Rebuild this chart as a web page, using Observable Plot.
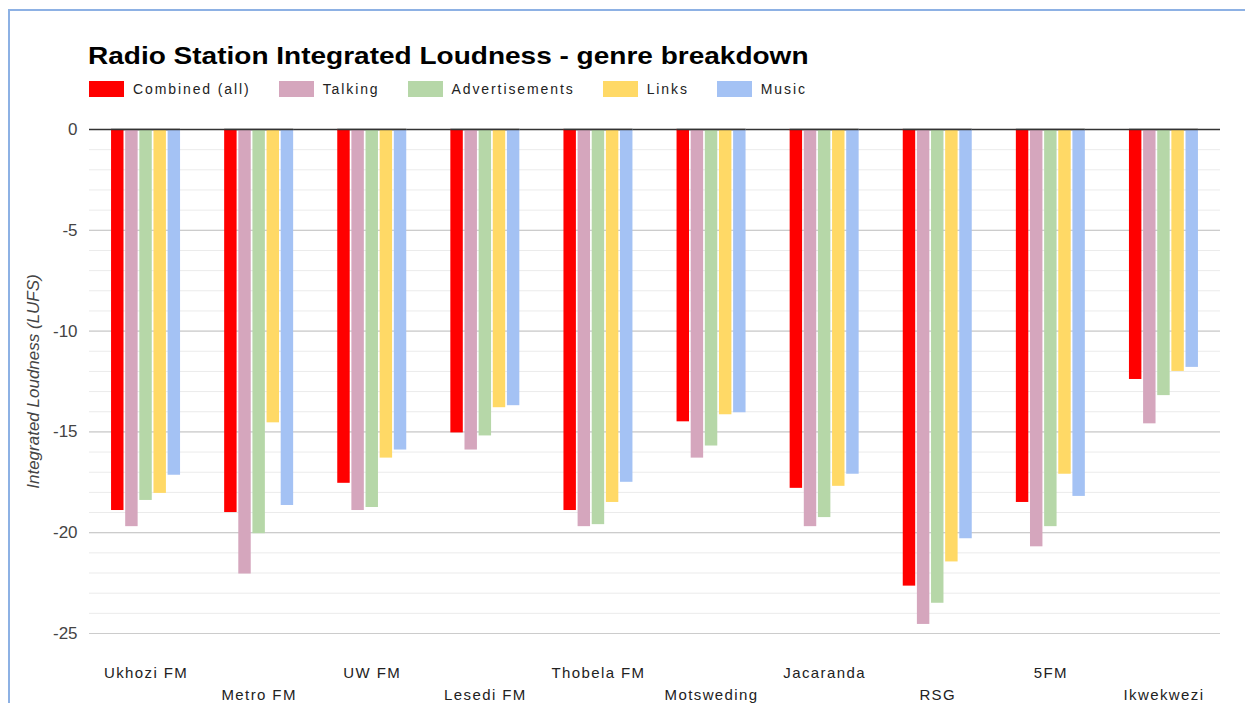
<!DOCTYPE html>
<html>
<head>
<meta charset="utf-8">
<script src="https://cdn.jsdelivr.net/npm/d3@7"></script>
<script src="https://cdn.jsdelivr.net/npm/@observablehq/plot@0.6"></script>
<style>
  html, body { margin: 0; padding: 0; background: #fff; }
  #wrap { position: relative; width: 1245px; height: 703px; overflow: hidden; font-family: "Liberation Sans", Arial, sans-serif; }
  #border { position: absolute; left: 8px; top: 9px; width: 1400px; height: 900px; border: 2px solid #8db1e4; box-sizing: border-box; }
  #title { position: absolute; left: 88px; top: 44px; font-size: 24px; line-height: 24px; font-weight: bold; color: #000; white-space: nowrap; transform: scaleX(1.167); transform-origin: left center; }
  #legend { position: absolute; left: 89px; top: 81px; display: flex; align-items: center; height: 16px; }
  .item { display: flex; align-items: center; margin-right: 28px; }
  .sw { width: 35px; height: 16px; margin-right: 9px; }
  .lab { font-size: 14px; letter-spacing: 1.9px; color: #222; white-space: nowrap; }
  #grid, #chart { position: absolute; left: 0; top: 100px; }
  #grid svg, #chart svg { overflow: visible; font-family: "Liberation Sans", Arial, sans-serif; }
  g[aria-label="fx-axis tick label"] text { letter-spacing: 1.4px; }
  g[aria-label="y-axis label"] text { font-style: italic; }
</style>
</head>
<body>
<div id="wrap">
  <div id="border"></div>
  <div id="title"></div>
  <div id="legend"></div>
  <div id="grid"></div>
  <div id="chart"></div>
</div>
<script>
const titleText = "Radio Station Integrated Loudness - genre breakdown";
const yLabel = "Integrated Loudness (LUFS)";
const stations = ["Ukhozi FM", "Metro FM", "UW FM", "Lesedi FM", "Thobela FM", "Motsweding", "Jacaranda", "RSG", "5FM", "Ikwekwezi"];
const genres = ["Combined (all)", "Talking", "Advertisements", "Links", "Music"];
const colors = ["#ff0000", "#d5a6bd", "#b6d7a8", "#ffd966", "#a4c2f4"];
const combined = [-18.9, -19.0, -17.55, -15.05, -18.9, -14.5, -17.8, -22.65, -18.5, -12.4];
const talking  = [-19.7, -22.05, -18.9, -15.9, -19.7, -16.3, -19.7, -24.55, -20.7, -14.6];
const ads      = [-18.4, -20.05, -18.75, -15.2, -19.6, -15.7, -19.25, -23.5, -19.7, -13.2];
const links    = [-18.05, -14.55, -16.3, -13.8, -18.5, -14.15, -17.7, -21.45, -17.1, -12.0];
const music    = [-17.15, -18.65, -15.9, -13.7, -17.5, -14.05, -17.1, -20.3, -18.2, -11.8];
const majorTicks = [0, -5, -10, -15, -20, -25];
const minorTicks = d3.range(-25, 1, 1);

const series = [combined, talking, ads, links, music];
const rows = stations.flatMap((s, i) => genres.map((g, j) => ({station: s, genre: g, value: series[j][i]})));

document.getElementById("title").textContent = titleText;
const legend = document.getElementById("legend");
genres.forEach((g, j) => {
  const it = document.createElement("div"); it.className = "item";
  const sw = document.createElement("div"); sw.className = "sw"; sw.style.background = colors[j];
  const lb = document.createElement("div"); lb.className = "lab"; lb.textContent = g;
  it.appendChild(sw); it.appendChild(lb); legend.appendChild(it);
});

const evenSt = stations.filter((d, i) => i % 2 === 0);
const oddSt = stations.filter((d, i) => i % 2 === 1);

const dims = {width: 1245, height: 603, marginTop: 29, marginBottom: 70, marginLeft: 89, marginRight: 25};

// background grid, spanning the full frame
const grid = Plot.plot({
  ...dims,
  style: {background: "transparent"},
  y: {domain: [-25, 0], axis: null},
  marks: [
    Plot.ruleY(minorTicks, {stroke: "#ebebeb", strokeWidth: 1}),
    Plot.ruleY(majorTicks.filter(d => d !== 0), {stroke: "#cccccc", strokeWidth: 1.2}),
    Plot.ruleY([0], {stroke: "#333333", strokeWidth: 1.5})
  ]
});
document.getElementById("grid").appendChild(grid);

const chart = Plot.plot({
  ...dims,
  style: {background: "transparent", fontSize: "14px"},
  fx: {domain: stations, paddingInner: 0.39, paddingOuter: 0.195, round: false, axis: null},
  x: {domain: genres, paddingInner: 0.12, paddingOuter: 0, round: false, axis: null},
  y: {domain: [-25, 0], axis: null},
  color: {domain: genres, range: colors},
  marks: [
    Plot.barY(rows, {fx: "station", x: "genre", y: "value", fill: "genre"}),
    Plot.ruleY([0], {stroke: "#333333", strokeWidth: 1.5}),
    Plot.axisY({ticks: majorTicks, tickFormat: d => String(d), tickSize: 0, tickPadding: 34, fontSize: 17, fill: "#444",
      label: yLabel, labelAnchor: "center", labelArrow: "none", labelOffset: 85}),
    Plot.axisFx({ticks: evenSt, anchor: "bottom", tickSize: 0, tickPadding: 34, fontSize: 15, fill: "#222", label: null}),
    Plot.axisFx({ticks: oddSt, anchor: "bottom", tickSize: 0, tickPadding: 56, fontSize: 15, fill: "#222", label: null})
  ]
});
document.getElementById("chart").appendChild(chart);
</script>
</body>
</html>
